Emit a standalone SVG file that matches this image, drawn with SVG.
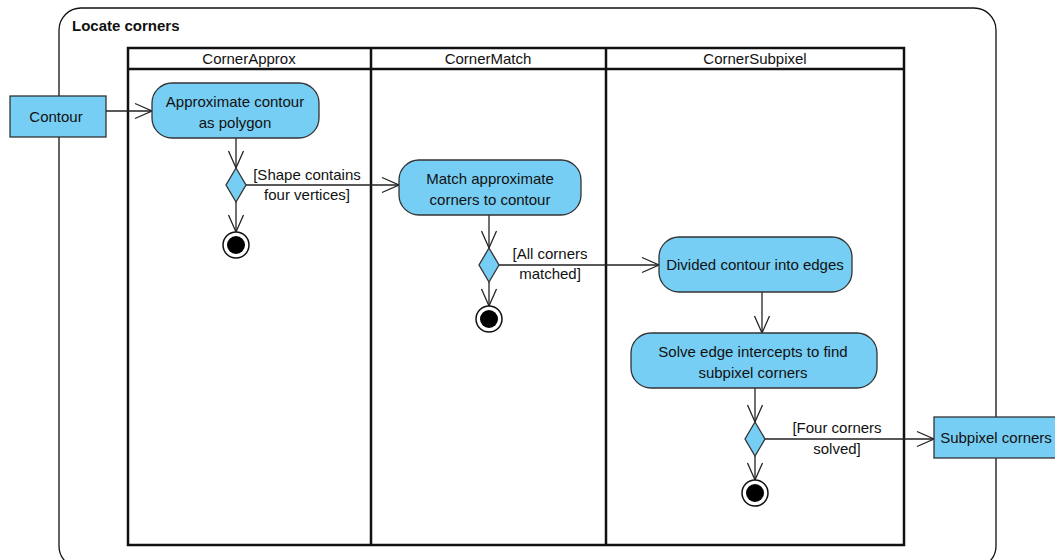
<svg xmlns="http://www.w3.org/2000/svg" width="1055" height="560" viewBox="0 0 1055 560">
  <style>
    text { font-family: "Liberation Sans", Arial, sans-serif; font-size: 15px; fill: #111; }
    .title { font-weight: bold; font-size: 15px; }
    .lane { font-size: 15px; }
    .act { fill: #77CEF4; stroke: #333; stroke-width: 1.3; }
    .obj { fill: #77CEF4; stroke: #333; stroke-width: 1.3; }
    .dec { fill: #77CEF4; stroke: #333; stroke-width: 1.3; }
    .frame { fill: none; stroke: #111; stroke-width: 1.3; }
    .lanes { fill: none; stroke: #111; stroke-width: 2.5; }
    .flow { fill: none; stroke: #222; stroke-width: 1.3; marker-end: url(#open); }
    .c { text-anchor: middle; }
  </style>
  <defs>
    <marker id="open" markerUnits="userSpaceOnUse" markerWidth="20" markerHeight="20" viewBox="-18 -10 20 20" refX="0" refY="0" orient="auto">
      <path d="M -17 -7.5 L 0 0 L -17 7.5" fill="none" stroke="#222" stroke-width="1.3"/>
    </marker>
  </defs>

  <!-- activity frame -->
  <g id="frame">
    <rect class="frame" x="59" y="8" width="937" height="560" rx="22" ry="22"/>
    <text class="title" x="72" y="31">Locate corners</text>
  </g>

  <!-- swimlanes -->
  <g id="lanes">
    <rect fill="#fff" x="128" y="48" width="776" height="497"/>
    <rect class="lanes" x="128" y="48" width="776" height="497"/>
    <line class="lanes" x1="128" y1="69" x2="904" y2="69"/>
    <line class="lanes" x1="371" y1="48" x2="371" y2="545"/>
    <line class="lanes" x1="606" y1="48" x2="606" y2="545"/>
    <text class="lane c" x="249" y="64">CornerApprox</text>
    <text class="lane c" x="488" y="64">CornerMatch</text>
    <text class="lane c" x="755" y="64">CornerSubpixel</text>
  </g>

  <!-- connectors -->
  <g id="connectors">
    <line class="flow" x1="106" y1="111" x2="152" y2="111"/>
    <line class="flow" x1="236" y1="138" x2="236" y2="168"/>
    <line class="flow" x1="246" y1="185" x2="399" y2="185"/>
    <line class="flow" x1="236" y1="202" x2="236" y2="232"/>
    <line class="flow" x1="489" y1="215" x2="489" y2="248"/>
    <line class="flow" x1="499" y1="265" x2="659" y2="265"/>
    <line class="flow" x1="489" y1="282" x2="489" y2="306"/>
    <line class="flow" x1="762" y1="292" x2="762" y2="333"/>
    <line class="flow" x1="755" y1="388" x2="755" y2="422"/>
    <line class="flow" x1="765" y1="439" x2="934" y2="439"/>
    <line class="flow" x1="755" y1="456" x2="755" y2="480"/>
    <text class="c" x="307" y="180">[Shape contains</text>
    <text class="c" x="307" y="200">four vertices]</text>
    <text class="c" x="550" y="259">[All corners</text>
    <text class="c" x="550" y="279">matched]</text>
    <text class="c" x="837" y="433">[Four corners</text>
    <text class="c" x="837" y="454">solved]</text>
  </g>

  <!-- object nodes -->
  <g id="contour">
    <rect class="obj" x="10" y="96" width="96" height="41"/>
    <text class="c" x="56" y="122">Contour</text>
  </g>
  <g id="subpixel-corners">
    <rect class="obj" x="934" y="417" width="124" height="41"/>
    <text class="c" x="996" y="443">Subpixel corners</text>
  </g>

  <!-- actions -->
  <g id="approx-polygon">
    <rect class="act" x="152" y="83" width="167" height="55" rx="20" ry="20"/>
    <text class="c" x="235" y="107">Approximate contour</text>
    <text class="c" x="235" y="128">as polygon</text>
  </g>
  <g id="match-corners">
    <rect class="act" x="399" y="160" width="182" height="55" rx="20" ry="20"/>
    <text class="c" x="490" y="184">Match approximate</text>
    <text class="c" x="490" y="205">corners to contour</text>
  </g>
  <g id="divide-edges">
    <rect class="act" x="659" y="237" width="193" height="55" rx="20" ry="20"/>
    <text class="c" x="755" y="270">Divided contour into edges</text>
  </g>
  <g id="solve-intercepts">
    <rect class="act" x="631" y="333" width="246" height="55" rx="20" ry="20"/>
    <text class="c" x="753" y="357">Solve edge intercepts to find</text>
    <text class="c" x="753" y="378">subpixel corners</text>
  </g>

  <!-- decisions -->
  <g id="decision-shape">
    <polygon class="dec" points="236,168 246,185 236,202 226,185"/>
  </g>
  <g id="decision-matched">
    <polygon class="dec" points="489,248 499,265 489,282 479,265"/>
  </g>
  <g id="decision-solved">
    <polygon class="dec" points="755,422 765,439 755,456 745,439"/>
  </g>

  <!-- final nodes -->
  <g id="final-approx">
    <circle cx="236" cy="245" r="13" fill="#fff" stroke="#111" stroke-width="1.5"/>
    <circle cx="236" cy="245" r="9" fill="#000"/>
  </g>
  <g id="final-match">
    <circle cx="489" cy="319" r="13" fill="#fff" stroke="#111" stroke-width="1.5"/>
    <circle cx="489" cy="319" r="9" fill="#000"/>
  </g>
  <g id="final-subpixel">
    <circle cx="755" cy="493" r="13" fill="#fff" stroke="#111" stroke-width="1.5"/>
    <circle cx="755" cy="493" r="9" fill="#000"/>
  </g>
</svg>
